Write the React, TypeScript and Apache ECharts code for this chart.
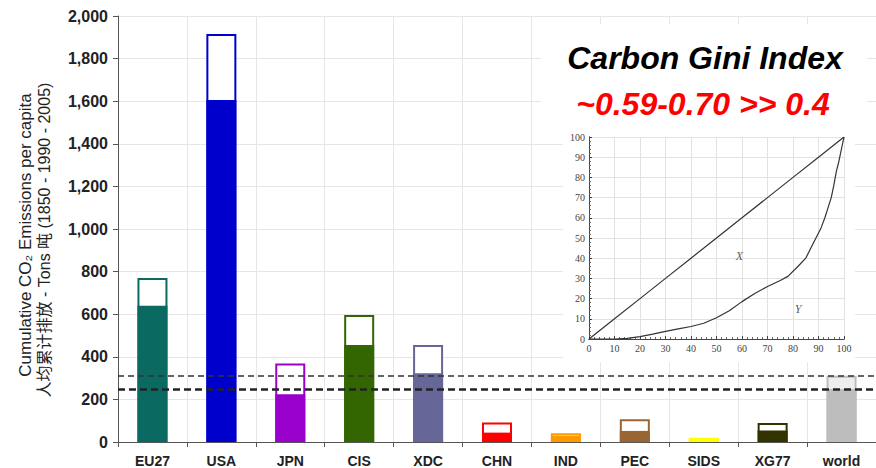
import React, { useEffect, useRef } from 'react';
import * as echarts from 'echarts';

const categories = ['EU27', 'USA', 'JPN', 'CIS', 'XDC', 'CHN', 'IND', 'PEC', 'SIDS', 'XG77', 'world'];
// cumulative per capita 1850-2005 (whole bar) and 1850-1990 (filled part)
const total1850to2005 = [770, 1915, 369, 596, 455, 92, 41, 107, 20, 89, 311];
const total1850to1990 = [640, 1606, 224, 455, 323, 44, 30, 52, 15, 54, 249];
const barColors = ['#0A6A62', '#0000CC', '#9900CC', '#336600', '#666699', '#FF0000', '#FF9900', '#996633', '#FFFF00', '#333300', '#BDBDBD'];
const yTicks = [0, 200, 400, 600, 800, 1000, 1200, 1400, 1600, 1800, 2000];

// Lorenz curves of the inset
const curveX = [[0, 0], [10, 10], [20, 20], [30, 30], [40, 40], [50, 50], [60, 60], [70, 70], [80, 80], [90, 90], [100, 100]];
const curveY = [[0, 0], [10, 0], [15, 0.3], [20, 1.2], [25, 2.4], [30, 3.8], [35, 5], [40, 6.2], [45, 7.8], [50, 10.5], [55, 14], [60, 18.5], [65, 22.5], [70, 26], [75, 29], [78, 31], [82, 36], [85, 40], [87, 45], [89, 50], [91, 55], [92.5, 60], [94, 66], [95, 70], [96, 76], [97, 83], [98, 88], [100, 100]];
const curveLabels = [{ name: 'X', value: [59, 41] }, { name: 'Y', value: [82, 15] }];

const titleText = 'Carbon Gini Index';
const subtitleText = '~0.59-0.70 >> 0.4';
const axisName1 = 'Cumulative CO\u2082 Emissions per capita';
const axisName2 = '人均累计排放 - Tons 吨 (1850 - 1990 - 2005)';

export default function App() {
  const ref = useRef<HTMLDivElement>(null);
  useEffect(() => {
    const chart = echarts.init(ref.current!, null, { renderer: 'svg' });
    const sans = '"Liberation Sans", Arial, sans-serif';
    const serif = '"Liberation Serif", "Times New Roman", serif';
    const insetAxisCommon = {
      type: 'value',
      gridIndex: 1,
      min: 0,
      max: 100,
      interval: 10,
      z: 5,
      axisLine: { show: true, lineStyle: { color: '#444', width: 1 } },
      axisTick: { show: true, inside: true, length: 3, lineStyle: { color: '#444' } },
      minorTick: { show: true, splitNumber: 5, length: 2, lineStyle: { color: '#666' } },
      axisLabel: { fontFamily: serif, fontSize: 10, color: '#444', margin: 4 },
      splitLine: { show: true, lineStyle: { color: '#E2E2E2', width: 1 } },
    };
    const frameAxis = {
      type: 'value',
      gridIndex: 1,
      min: 0,
      max: 100,
      z: 5,
      axisLine: { show: true, lineStyle: { color: '#444', width: 1 } },
      axisTick: { show: false },
      axisLabel: { show: false },
      splitLine: { show: false },
    };
    const option = {
      animation: false,
      backgroundColor: '#ffffff',
      grid: [
        { left: 118, top: 16, right: 0, bottom: 26 },
        { left: 589, top: 137, width: 255, height: 202 },
      ],
      xAxis: [
        {
          type: 'category',
          gridIndex: 0,
          data: categories,
          z: 0,
          axisLine: { lineStyle: { color: '#555', width: 1 } },
          axisTick: { show: true, length: 5, lineStyle: { color: '#555' } },
          axisLabel: { interval: 0, fontFamily: sans, fontWeight: 'bold', fontSize: 14, color: '#222', margin: 12 },
          splitLine: { show: true, lineStyle: { color: '#E6E6E6' } },
        },
        { ...insetAxisCommon, position: 'bottom' },
        { ...frameAxis, position: 'top' },
      ],
      yAxis: [
        {
          type: 'value',
          gridIndex: 0,
          min: yTicks[0],
          max: yTicks[yTicks.length - 1],
          interval: 200,
          z: 0,
          axisLine: { show: true, lineStyle: { color: '#555', width: 1 } },
          axisTick: { show: true, length: 5, lineStyle: { color: '#555' } },
          axisLabel: {
            fontFamily: sans, fontWeight: 'bold', fontSize: 16, color: '#222', margin: 10,
            formatter: (v: number) => v.toLocaleString('en-US'),
          },
          splitLine: { show: true, lineStyle: { color: '#E6E6E6' } },
        },
        { ...insetAxisCommon, position: 'left' },
        { ...frameAxis, position: 'right' },
      ],
      series: [
        {
          name: '1850-2005',
          type: 'bar',
          xAxisIndex: 0,
          yAxisIndex: 0,
          barWidth: 30,
          barGap: '-100%',
          z: 2,
          data: total1850to2005.map((v, i) => ({
            value: v,
            itemStyle: {
              color: i === categories.length - 1 ? '#EEEEEE' : '#ffffff',
              borderColor: barColors[i],
              borderWidth: 2,
            },
          })),
        },
        {
          name: '1850-1990',
          type: 'bar',
          xAxisIndex: 0,
          yAxisIndex: 0,
          barWidth: 30,
          barGap: '-100%',
          z: 3,
          data: total1850to1990.map((v, i) => ({ value: v, itemStyle: { color: barColors[i] } })),
          markLine: {
            silent: true,
            symbol: 'none',
            label: { show: false },
            data: [
              { yAxis: total1850to2005[categories.length - 1], lineStyle: { type: [6, 4], width: 1.5, color: '#333' } },
              { yAxis: total1850to1990[categories.length - 1], lineStyle: { type: [7, 4], width: 2.5, color: '#222' } },
            ],
          },
        },
        {
          type: 'line',
          xAxisIndex: 1,
          yAxisIndex: 1,
          z: 6,
          showSymbol: false,
          symbol: 'none',
          lineStyle: { color: '#333', width: 1.2 },
          data: curveX,
        },
        {
          type: 'line',
          xAxisIndex: 1,
          yAxisIndex: 1,
          z: 6,
          showSymbol: false,
          symbol: 'none',
          lineStyle: { color: '#333', width: 1.2 },
          data: curveY,
        },
        {
          type: 'scatter',
          xAxisIndex: 1,
          yAxisIndex: 1,
          z: 7,
          symbolSize: 0,
          data: curveLabels,
          label: {
            show: true,
            position: 'inside',
            formatter: '{b}',
            fontFamily: serif,
            fontStyle: 'italic',
            fontSize: 12,
            color: '#333',
          },
        },
      ],
      graphic: [
        { type: 'rect', z: 1, shape: { x: 541, y: 24, width: 326, height: 101 }, style: { fill: '#ffffff' } },
        { type: 'rect', z: 1, shape: { x: 563, y: 124, width: 292, height: 238 }, style: { fill: '#ffffff' } },
        {
          type: 'text', z: 10, x: 705, y: 58,
          style: {
            text: titleText, fill: '#000', font: `italic bold 32px ${sans}`,
            textAlign: 'center', textVerticalAlign: 'middle', align: 'center', verticalAlign: 'middle',
          },
        },
        {
          type: 'text', z: 10, x: 703, y: 104,
          style: {
            text: subtitleText, fill: '#FF0000', font: `italic bold 32px ${sans}`,
            textAlign: 'center', textVerticalAlign: 'middle', align: 'center', verticalAlign: 'middle',
          },
        },
        {
          type: 'text', z: 10, x: 25, y: 235, rotation: Math.PI / 2,
          style: {
            text: axisName1, fill: '#222', font: `17px ${sans}`,
            textAlign: 'center', textVerticalAlign: 'middle', align: 'center', verticalAlign: 'middle',
          },
        },
        {
          type: 'text', z: 10, x: 44, y: 240, rotation: Math.PI / 2,
          style: {
            text: axisName2, fill: '#222', font: `16px ${sans}, "Noto Sans CJK SC"`,
            textAlign: 'center', textVerticalAlign: 'middle', align: 'center', verticalAlign: 'middle',
          },
        },
      ],
    };
    chart.setOption(option as any);
    return () => chart.dispose();
  }, []);
  return (
    <div
      ref={ref}
      style={{ position: 'fixed', left: 0, top: 0, width: 876, height: 468, background: '#fff' }}
    />
  );
}
